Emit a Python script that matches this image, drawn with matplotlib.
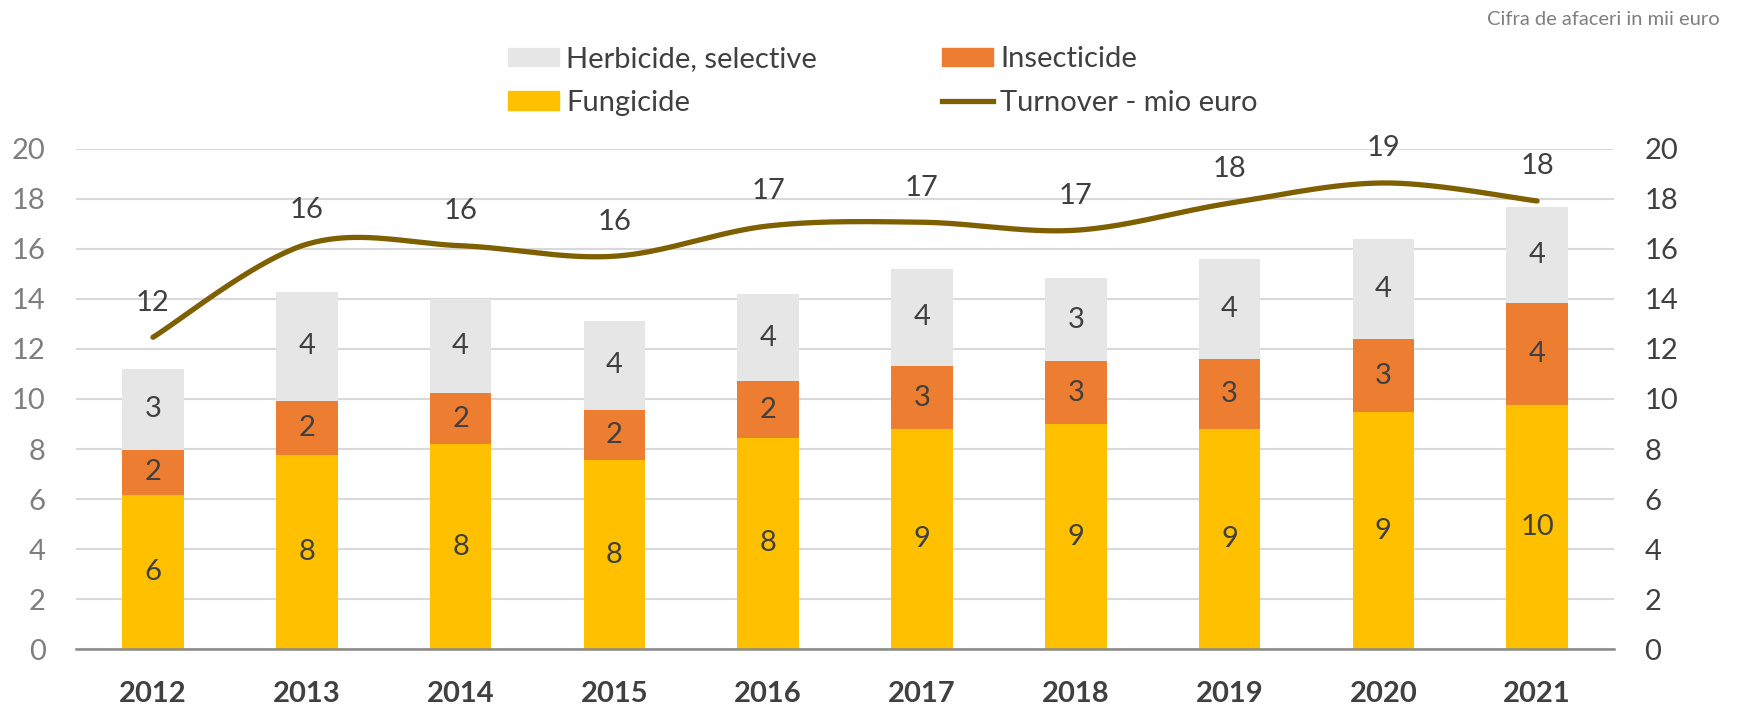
import matplotlib.pyplot as plt
import numpy as np
from matplotlib.lines import Line2D
from matplotlib.patches import Patch

years = ["2012", "2013", "2014", "2015", "2016", "2017", "2018", "2019", "2020", "2021"]
fungicide = [6.18, 7.78, 8.18, 7.56, 8.45, 8.78, 8.98, 8.81, 9.48, 9.77]
insecticide = [1.79, 2.14, 2.06, 2.01, 2.25, 2.55, 2.52, 2.77, 2.90, 4.08]
herbicide = [3.24, 4.37, 3.77, 3.56, 3.51, 3.86, 3.34, 4.02, 4.03, 3.83]
turnover = [12.47, 16.19, 16.13, 15.71, 16.92, 17.07, 16.75, 17.83, 18.64, 17.92]

c_fung = "#FFC000"
c_ins = "#ED7D31"
c_herb = "#E6E6E6"
c_line = "#7F6000"
txt = "#404040"

plt.rcParams['font.family'] = ['Lato', 'DejaVu Sans']


def smooth(xs, ys, n=40):
    # excel style smoothed line (catmull-rom through the points)
    xs = np.asarray(xs, float)
    ys = np.asarray(ys, float)
    px = np.concatenate([[xs[0]], xs, [xs[-1]]])
    py = np.concatenate([[ys[0]], ys, [ys[-1]]])
    outx, outy = [], []
    t = np.linspace(0, 1, n)
    for i in range(1, len(px) - 2):
        for p, out in ((px, outx), (py, outy)):
            p0, p1, p2, p3 = p[i - 1], p[i], p[i + 1], p[i + 2]
            c1 = p1 + (p2 - p0) / 6
            c2 = p2 - (p3 - p1) / 6
            seg = ((1 - t) ** 3 * p1 + 3 * (1 - t) ** 2 * t * c1
                   + 3 * (1 - t) * t ** 2 * c2 + t ** 3 * p2)
            out.extend(seg)
    return np.array(outx), np.array(outy)


fig = plt.figure(figsize=(17.37, 7.05), dpi=100)
ax = fig.add_axes([0.0438, 0.0794, 0.9292 - 0.0438, 0.7887 - 0.0794])
x = np.arange(len(years))
w = 0.4

fung = np.array(fungicide)
ins = np.array(insecticide)
herb = np.array(herbicide)

b1 = ax.bar(x, fung, w, color=c_fung, zorder=2)
b2 = ax.bar(x, ins, w, bottom=fung, color=c_ins, zorder=2)
b3 = ax.bar(x, herb, w, bottom=fung + ins, color=c_herb, zorder=2)

for vals, bot in ((fung, np.zeros(len(x))), (ins, fung), (herb, fung + ins)):
    for i, v in enumerate(vals):
        ax.text(x[i], bot[i] + v / 2, f"{v:.0f}", ha='center', va='center',
                fontsize=21, color=txt, zorder=3)

ax.set_xlim(-0.5, len(years) - 0.5)
ax.set_ylim(0, 20)
ax.set_yticks(range(0, 21, 2))
ax.yaxis.grid(True, color="#D9D9D9", linewidth=1.5, zorder=0)
ax.set_axisbelow(True)
for s in ['top', 'right', 'left']:
    ax.spines[s].set_visible(False)
ax.spines['bottom'].set_color("#898989")
ax.spines['bottom'].set_linewidth(1.8)
ax.set_xticks(x)
ax.set_xticklabels(years, fontsize=21, fontweight='bold', color=txt)
ax.tick_params(axis='x', length=0, pad=23)
ax.tick_params(axis='y', length=0, pad=22, labelsize=21, labelcolor="#7F7F7F")

ax2 = ax.twinx()
ax2.set_ylim(0, 20)
ax2.set_yticks(range(0, 21, 2))
for s in ax2.spines.values():
    s.set_visible(False)
ax2.tick_params(axis='y', length=0, pad=22, labelsize=21, labelcolor=txt)
sx, sy = smooth(x, turnover)
ax2.plot(sx, sy, color=c_line, linewidth=3.8, solid_capstyle='round', zorder=4)
for i, v in enumerate(turnover):
    ax2.annotate(f"{v:.0f}", (x[i], v), xytext=(0, 25), textcoords='offset points',
                 ha='center', va='center', fontsize=21, color=txt,
                 annotation_clip=False)

handles = [Patch(color=c_herb), Patch(color=c_fung), Patch(color=c_ins),
           Line2D([0], [0], color=c_line, linewidth=3.8)]
labels = ["Herbicide, selective", "Fungicide", "Insecticide", "Turnover - mio euro"]
fig.legend(handles, labels, ncol=2, loc='center', bbox_to_anchor=(0.5084, 0.885),
           frameon=False, fontsize=21, labelcolor=txt, handlelength=1.75,
           handleheight=0.58, handletextpad=0.24, columnspacing=4.28,
           labelspacing=0.6)

fig.text(0.99, 0.972, "Cifra de afaceri in mii euro", ha='right', va='center',
         fontsize=14.5, color="#7F7F7F")

fig.savefig("out.png", dpi=100)
